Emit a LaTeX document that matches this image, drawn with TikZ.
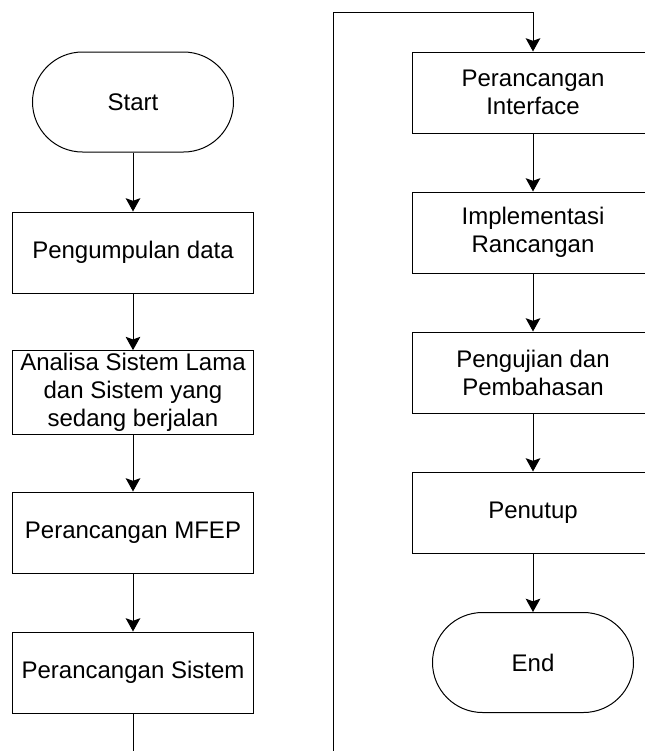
\documentclass[tikz,border=0pt]{standalone}
\usepackage{fontspec}
\setmainfont{Liberation Sans}
\usetikzlibrary{arrows.meta}
\begin{document}
\begin{tikzpicture}[x=0.75pt,y=-0.75pt,>={Stealth[length=10pt,width=11pt,inset=2pt]},
    box/.style={draw,line width=0.75pt,minimum width=180.75pt,minimum height=60.75pt,align=center,inner sep=2pt,font=\fontsize{18}{21}\selectfont},
    term/.style={box,rounded corners=37.5pt,minimum width=150.75pt,minimum height=75pt}]
    \useasboundingbox (0,0) rectangle (644,751);
    \begin{scope}
    \clip (0,0) rectangle (680,751);
    % left column
    \node[term] (start) at (133,102) {Start};
    \node[box] (data) at (133,252.5) {Pengumpulan data};
    \node[box] (analisa) at (133,392.5) {Analisa Sistem Lama\\dan Sistem yang\\sedang berjalan};
    \node[box] (mfep) at (133,532.5) {Perancangan MFEP};
    \node[box] (sistem) at (133,672.5) {Perancangan Sistem};
    % right column
    \node[box] (interface) at (533,92.5) {Perancangan\\Interface};
    \node[box] (impl) at (533,232.5) {Implementasi\\Rancangan};
    \node[box] (uji) at (533,372.5) {Pengujian dan\\Pembahasan};
    \node[box] (tutup) at (533,512.5) {Penutup};
    \node[term] (end) at (533,662.5) {End};
    \draw[->,line width=0.75pt] (start) -- (data);
    \draw[->,line width=0.75pt] (data) -- (analisa);
    \draw[->,line width=0.75pt] (analisa) -- (mfep);
    \draw[->,line width=0.75pt] (mfep) -- (sistem);
    \coordinate (low) at (133,790);
    \coordinate (back) at (333,790);
    \coordinate (top) at (333,12);
    \draw[->,line width=0.75pt] (sistem) -- (low) -- (back) -- (top) -- (interface.north |- top) -- (interface);
    \draw[->,line width=0.75pt] (interface) -- (impl);
    \draw[->,line width=0.75pt] (impl) -- (uji);
    \draw[->,line width=0.75pt] (uji) -- (tutup);
    \draw[->,line width=0.75pt] (tutup) -- (end);
    \end{scope}
\end{tikzpicture}
\end{document}
